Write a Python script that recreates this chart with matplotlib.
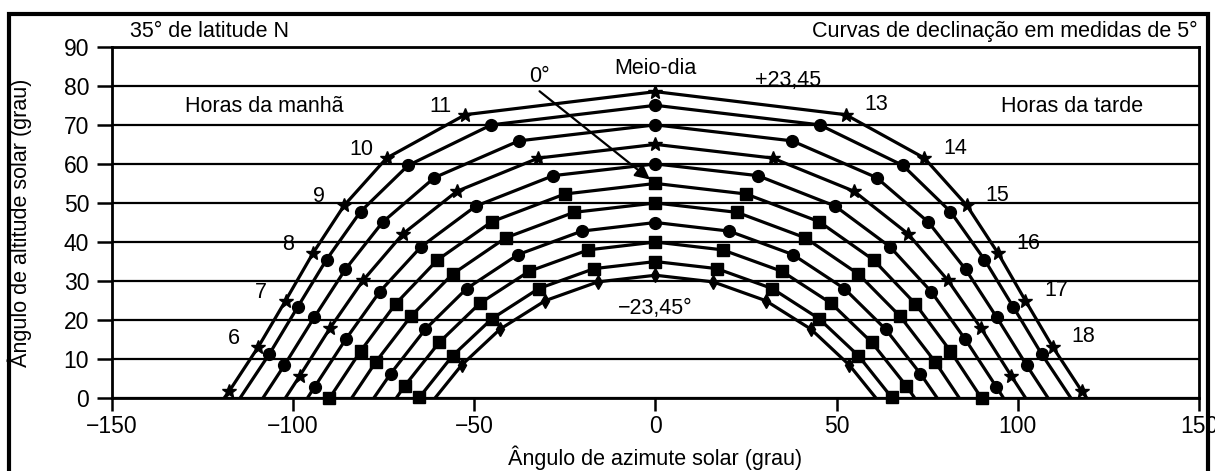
#%%imports
import matplotlib
matplotlib.use("Agg")
import matplotlib.pyplot as plt
from matplotlib.patches import Rectangle

plt.rcParams["font.family"] = ["Liberation Sans", "DejaVu Sans"]


#%%data (morning half of each curve, noon last)
DECLINATIONS = [23.45, 20, 15, 10, 5, 0, -5, -10, -15, -20, -23.45]
FIRST_HOUR = [5, 6, 6, 6, 6, 6, 7, 7, 7, 7, 8]
MORNING_AZ = [
    [-117.6, -109.6, -102.1, -94.5, -85.9, -74.2, -52.5, 0.0],
    [-106.6, -98.8, -90.8, -81.4, -68.3, -45.3, 0.0],
    [-102.4, -94.2, -85.6, -75.3, -61.0, -37.7, 0.0],
    [-98.2, -89.8, -80.7, -69.7, -54.8, -32.3, 0.0],
    [-94.1, -85.5, -76.1, -64.7, -49.6, -28.2, 0.0],
    [-90.0, -81.3, -71.7, -60.2, -45.2, -25.0, 0.0],
    [-77.2, -67.5, -56.0, -41.3, -22.5, 0.0],
    [-73.1, -63.5, -52.1, -37.9, -20.3, 0.0],
    [-69.2, -59.7, -48.5, -34.9, -18.5, 0.0],
    [-65.2, -56.0, -45.1, -32.2, -16.9, 0.0],
    [-53.5, -42.9, -30.4, -15.9, 0.0],
]
MORNING_ALT = [
    [1.9, 13.2, 25.0, 37.2, 49.4, 61.5, 72.6, 78.5],
    [11.3, 23.3, 35.5, 47.8, 59.6, 70.0, 75.0],
    [8.5, 20.7, 33.0, 45.1, 56.5, 65.9, 70.0],
    [5.7, 18.0, 30.2, 42.1, 53.0, 61.5, 65.0],
    [2.9, 15.1, 27.3, 38.8, 49.2, 57.0, 60.0],
    [0.0, 12.2, 24.2, 35.4, 45.2, 52.3, 55.0],
    [9.3, 21.0, 31.8, 41.1, 47.6, 50.0],
    [6.3, 17.7, 28.1, 36.8, 42.8, 45.0],
    [3.2, 14.3, 24.3, 32.5, 38.0, 40.0],
    [0.2, 10.9, 20.4, 28.1, 33.2, 35.0],
    [8.5, 17.7, 25.0, 29.8, 31.5],
]
SUNRISE_AZ = [-119.1, -114.7, -108.4, -102.2, -96.1, -90.0, -83.9, -77.8, -71.6, -65.3, -60.9]
HOUR_LABELS = [6, 7, 8, 9, 10, 11, 13, 14, 15, 16, 17, 18]

#styles
MARKERS = ["*", "o", "o", "*", "o", "s", "s", "o", "s", "s", "d"]
MSIZES = [10, 8.5, 8.5, 10, 8.5, 8, 8, 8.5, 8, 8, 7.5]
FS = 15.5


#%%definitions
def full_day(az, alt):
    """mirror the morning half onto the afternoon"""
    az_all = list(az) + [-a for a in reversed(az[:-1])]
    alt_all = list(alt) + list(reversed(alt[:-1]))
    return az_all, alt_all


def main():
    fig = plt.figure(figsize=(12.15, 4.71), dpi=100)
    ax = fig.add_axes([0.0922, 0.1544, 0.8946, 0.7464])

    for i, dec in enumerate(DECLINATIONS):
        az, alt = full_day(MORNING_AZ[i], MORNING_ALT[i])
        #line runs from sunrise to sunset
        ax.plot([SUNRISE_AZ[i]] + az + [-SUNRISE_AZ[i]], [0.0] + alt + [0.0],
                color="k", lw=2.3, solid_capstyle="butt", solid_joinstyle="round", zorder=3)
        ax.plot(az, alt, ls="none", marker=MARKERS[i], ms=MSIZES[i],
                color="k", clip_on=False, zorder=4)

    #hour labels beside the outermost curve
    for h in HOUR_LABELS:
        if h < 12:
            k = h - FIRST_HOUR[0]
            x, y = MORNING_AZ[0][k], MORNING_ALT[0][k]
            off = (-18, 6)
        else:
            k = 24 - h - FIRST_HOUR[0]
            x, y = -MORNING_AZ[0][k], MORNING_ALT[0][k]
            off = (22, 7)
        ax.annotate(str(h), (x, y), xytext=off, textcoords="offset points",
                    ha="center", va="center", fontsize=FS)

    ax.text(-108, 74.6, "Horas da manhã", ha="center", va="center", fontsize=FS)
    ax.text(115, 74.6, "Horas da tarde", ha="center", va="center", fontsize=FS)
    ax.text(0, 84.5, "Meio-dia", ha="center", va="center", fontsize=FS)
    ax.text(36.5, 81.3, "+23,45", ha="center", va="center", fontsize=FS)
    ax.text(0, 23.0, "\u221223,45°", ha="center", va="center", fontsize=FS, zorder=5)
    ax.text(-32, 82.5, "0°", ha="center", va="center", fontsize=FS)
    ax.annotate("", xy=(-1.5, 56), xytext=(-32, 78.6),
                arrowprops=dict(arrowstyle="-|>", color="k", lw=1.6,
                                mutation_scale=22, shrinkA=0, shrinkB=0), zorder=5)

    ax.set_xlim(-150, 150)
    ax.set_ylim(0, 90)
    ax.set_xticks(range(-150, 151, 50))
    ax.set_yticks(range(0, 91, 10))
    ax.yaxis.grid(True, color="k", lw=1.6)
    ax.set_axisbelow(True)
    for s in ax.spines.values():
        s.set_linewidth(2)
    ax.tick_params(direction="out", width=1.8, labelsize=16.5)
    ax.tick_params(axis="x", length=9, pad=3)
    ax.tick_params(axis="y", length=10.5, pad=6)

    ax.set_xlabel("Ângulo de azimute solar (grau)", fontsize=FS)
    ax.set_ylabel("Ângulo de altitude solar (grau)", fontsize=FS)
    ax.xaxis.set_label_coords(0.5, -0.133)
    ax.yaxis.set_label_coords(-0.074, 0.5)

    fig.text(0.107, 0.934, "35° de latitude N", ha="left", va="center", fontsize=FS)
    fig.text(0.986, 0.934, "Curvas de declinação em medidas de 5°", ha="right", va="center", fontsize=FS)

    #frame around the whole figure (bottom edge is cut off in the original)
    fig.patches.append(Rectangle((0.007, -0.05), 0.987, 1.021, transform=fig.transFigure,
                                 fill=False, lw=3, ec="k"))

    fig.savefig("out.png", dpi=100)


if __name__ == "__main__":
    main()
